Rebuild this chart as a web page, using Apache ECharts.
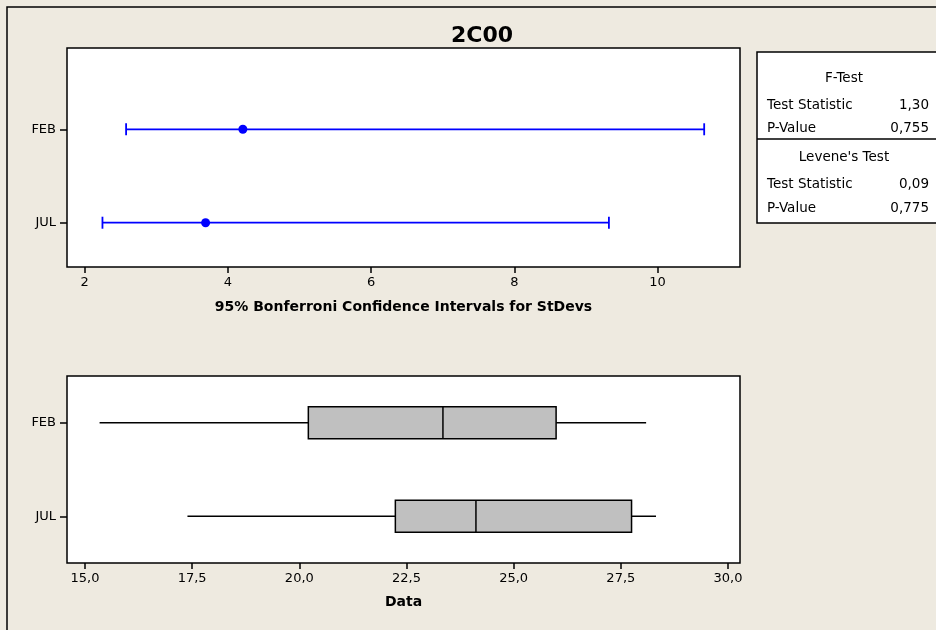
<!DOCTYPE html>
<html>
<head>
<meta charset="utf-8">
<script src="https://cdn.jsdelivr.net/npm/echarts@6/dist/echarts.min.js"></script>
<style>
html, body { margin: 0; padding: 0; background: #EEEAE0; }
#chart { width: 936px; height: 630px; }
</style>
</head>
<body>
<div id="chart"></div>
<script>
// groups, bottom one is JUL
const groups = ['FEB', 'JUL'];
const groupPos = [2, 1];
// 95% Bonferroni CI for StDev
const ciLower = [2.58, 2.25];
const ciSigma = [4.21, 3.69];
const ciUpper = [10.65, 9.32];
// boxplot: min, Q1, median, Q3, max
const boxFEB = [15.34, 20.21, 23.35, 25.99, 28.09];
const boxJUL = [17.39, 22.24, 24.12, 27.75, 28.32];
const ciTicks = [2, 4, 6, 8, 10];
const dataTicks = [15, 17.5, 20, 22.5, 25, 27.5, 30];
// stats table
const testTitles = ['F-Test', "Levene's Test"];
const statLabels = ['Test Statistic', 'P-Value'];
const fTestValues = ['1,30', '0,755'];
const leveneValues = ['0,09', '0,775'];

const FONT = 'DejaVu Sans';
const chart = echarts.init(document.getElementById('chart'));

const groupName = v => groups[groupPos.indexOf(Math.round(v))] || '';

function yAxisFor(gridIndex, min, max) {
  return {
    type: 'value', gridIndex, min, max,
    axisLine: { show: false },
    splitLine: { show: false },
    axisTick: { show: true, length: 7, customValues: groupPos, lineStyle: { color: '#000', width: 1.5 } },
    axisLabel: { customValues: groupPos, formatter: groupName, margin: 11,
      color: '#000', fontFamily: FONT, fontSize: 13 }
  };
}

function xAxisFor(gridIndex, min, max, ticks, fmt, name, gap) {
  return {
    type: 'value', gridIndex, min, max,
    name, nameLocation: 'middle', nameGap: gap,
    nameTextStyle: { fontFamily: FONT, fontWeight: 'bold', fontSize: 14, color: '#000' },
    axisLine: { show: false },
    splitLine: { show: false },
    axisTick: { show: true, length: 6, customValues: ticks, lineStyle: { color: '#000', width: 1.5 } },
    axisLabel: { customValues: ticks, formatter: fmt, margin: 9,
      color: '#000', fontFamily: FONT, fontSize: 13 }
  };
}

function renderCI(params, api) {
  const y = api.value(0);
  const lo = api.coord([api.value(1), y]);
  const hi = api.coord([api.value(2), y]);
  const style = { stroke: '#0000FF', lineWidth: 1.8 };
  return {
    type: 'group', children: [
      { type: 'line', shape: { x1: lo[0], y1: lo[1], x2: hi[0], y2: hi[1] }, style },
      { type: 'line', shape: { x1: lo[0], y1: lo[1] - 6, x2: lo[0], y2: lo[1] + 6 }, style },
      { type: 'line', shape: { x1: hi[0], y1: hi[1] - 6, x2: hi[0], y2: hi[1] + 6 }, style }
    ]
  };
}

function renderBox(params, api) {
  const y = api.value(0);
  const p = [1, 2, 3, 4, 5].map(i => api.coord([api.value(i), y]));
  const cy = p[0][1];
  const h = 16;
  const line = { stroke: '#000', lineWidth: 1.5 };
  return {
    type: 'group', children: [
      { type: 'line', shape: { x1: p[0][0], y1: cy, x2: p[1][0], y2: cy }, style: line },
      { type: 'line', shape: { x1: p[3][0], y1: cy, x2: p[4][0], y2: cy }, style: line },
      { type: 'rect', shape: { x: p[1][0], y: cy - h, width: p[3][0] - p[1][0], height: 2 * h },
        style: { fill: '#C0C0C0', stroke: '#000', lineWidth: 1.5 } },
      { type: 'line', shape: { x1: p[2][0], y1: cy - h, x2: p[2][0], y2: cy + h }, style: line }
    ]
  };
}

const tableRows = [
  { text: testTitles[0], y: 78, center: true },
  { text: statLabels[0], value: fTestValues[0], y: 105 },
  { text: statLabels[1], value: fTestValues[1], y: 128 },
  { text: testTitles[1], y: 157, center: true },
  { text: statLabels[0], value: leveneValues[0], y: 184 },
  { text: statLabels[1], value: leveneValues[1], y: 208 }
];
const tableText = [];
tableRows.forEach(r => {
  tableText.push({ type: 'text', x: r.center ? 844 : 767, y: r.y,
    style: { text: r.text, fill: '#000', font: '13.5px "' + FONT + '"',
      textAlign: r.center ? 'center' : 'left', textVerticalAlign: 'middle' } });
  if (r.value) {
    tableText.push({ type: 'text', x: 929, y: r.y,
      style: { text: r.value, fill: '#000', font: '13.5px "' + FONT + '"',
        textAlign: 'right', textVerticalAlign: 'middle' } });
  }
});

const option = {
  animation: false,
  backgroundColor: '#EEEAE0',
  title: {
    text: '2C00', left: 477, top: 20, textAlign: 'center',
    textStyle: { fontFamily: FONT, fontWeight: 'bold', fontSize: 22, color: '#000' }
  },
  grid: [
    { left: 67, top: 48, width: 673, height: 219, show: true, backgroundColor: '#fff',
      borderColor: '#000', borderWidth: 1.5 },
    { left: 67, top: 376, width: 673, height: 187, show: true, backgroundColor: '#fff',
      borderColor: '#000', borderWidth: 1.5 }
  ],
  xAxis: [
    xAxisFor(0, 1.755, 11.15, ciTicks, v => String(v), '95% Bonferroni Confidence Intervals for StDevs', 33),
    xAxisFor(1, 14.58, 30.28, dataTicks, v => v.toFixed(1).replace('.', ','), 'Data', 32)
  ],
  yAxis: [
    yAxisFor(0, 0.526, 2.87),
    yAxisFor(1, 0.5, 2.5)
  ],
  series: [
    {
      type: 'custom', xAxisIndex: 0, yAxisIndex: 0,
      renderItem: renderCI,
      encode: { x: [1, 2], y: 0 },
      data: groups.map((g, i) => [groupPos[i], ciLower[i], ciUpper[i]])
    },
    {
      type: 'scatter', xAxisIndex: 0, yAxisIndex: 0,
      symbol: 'circle', symbolSize: 9,
      itemStyle: { color: '#0000FF', opacity: 1 },
      data: groups.map((g, i) => [ciSigma[i], groupPos[i]])
    },
    {
      type: 'custom', xAxisIndex: 1, yAxisIndex: 1,
      renderItem: renderBox,
      encode: { x: [1, 2, 3, 4, 5], y: 0 },
      data: [[groupPos[0], ...boxFEB], [groupPos[1], ...boxJUL]]
    }
  ],
  graphic: [
    { type: 'rect', z: -1, shape: { x: 7, y: 7, width: 960, height: 660 },
      style: { fill: 'none', stroke: '#000', lineWidth: 1.5 } },
    { type: 'rect', shape: { x: 757, y: 52, width: 200, height: 171 },
      style: { fill: '#fff', stroke: '#000', lineWidth: 1.5 } },
    { type: 'line', shape: { x1: 757, y1: 139, x2: 936, y2: 139 },
      style: { stroke: '#000', lineWidth: 1.5 } },
    ...tableText
  ]
};
chart.setOption(option);
</script>
</body>
</html>
